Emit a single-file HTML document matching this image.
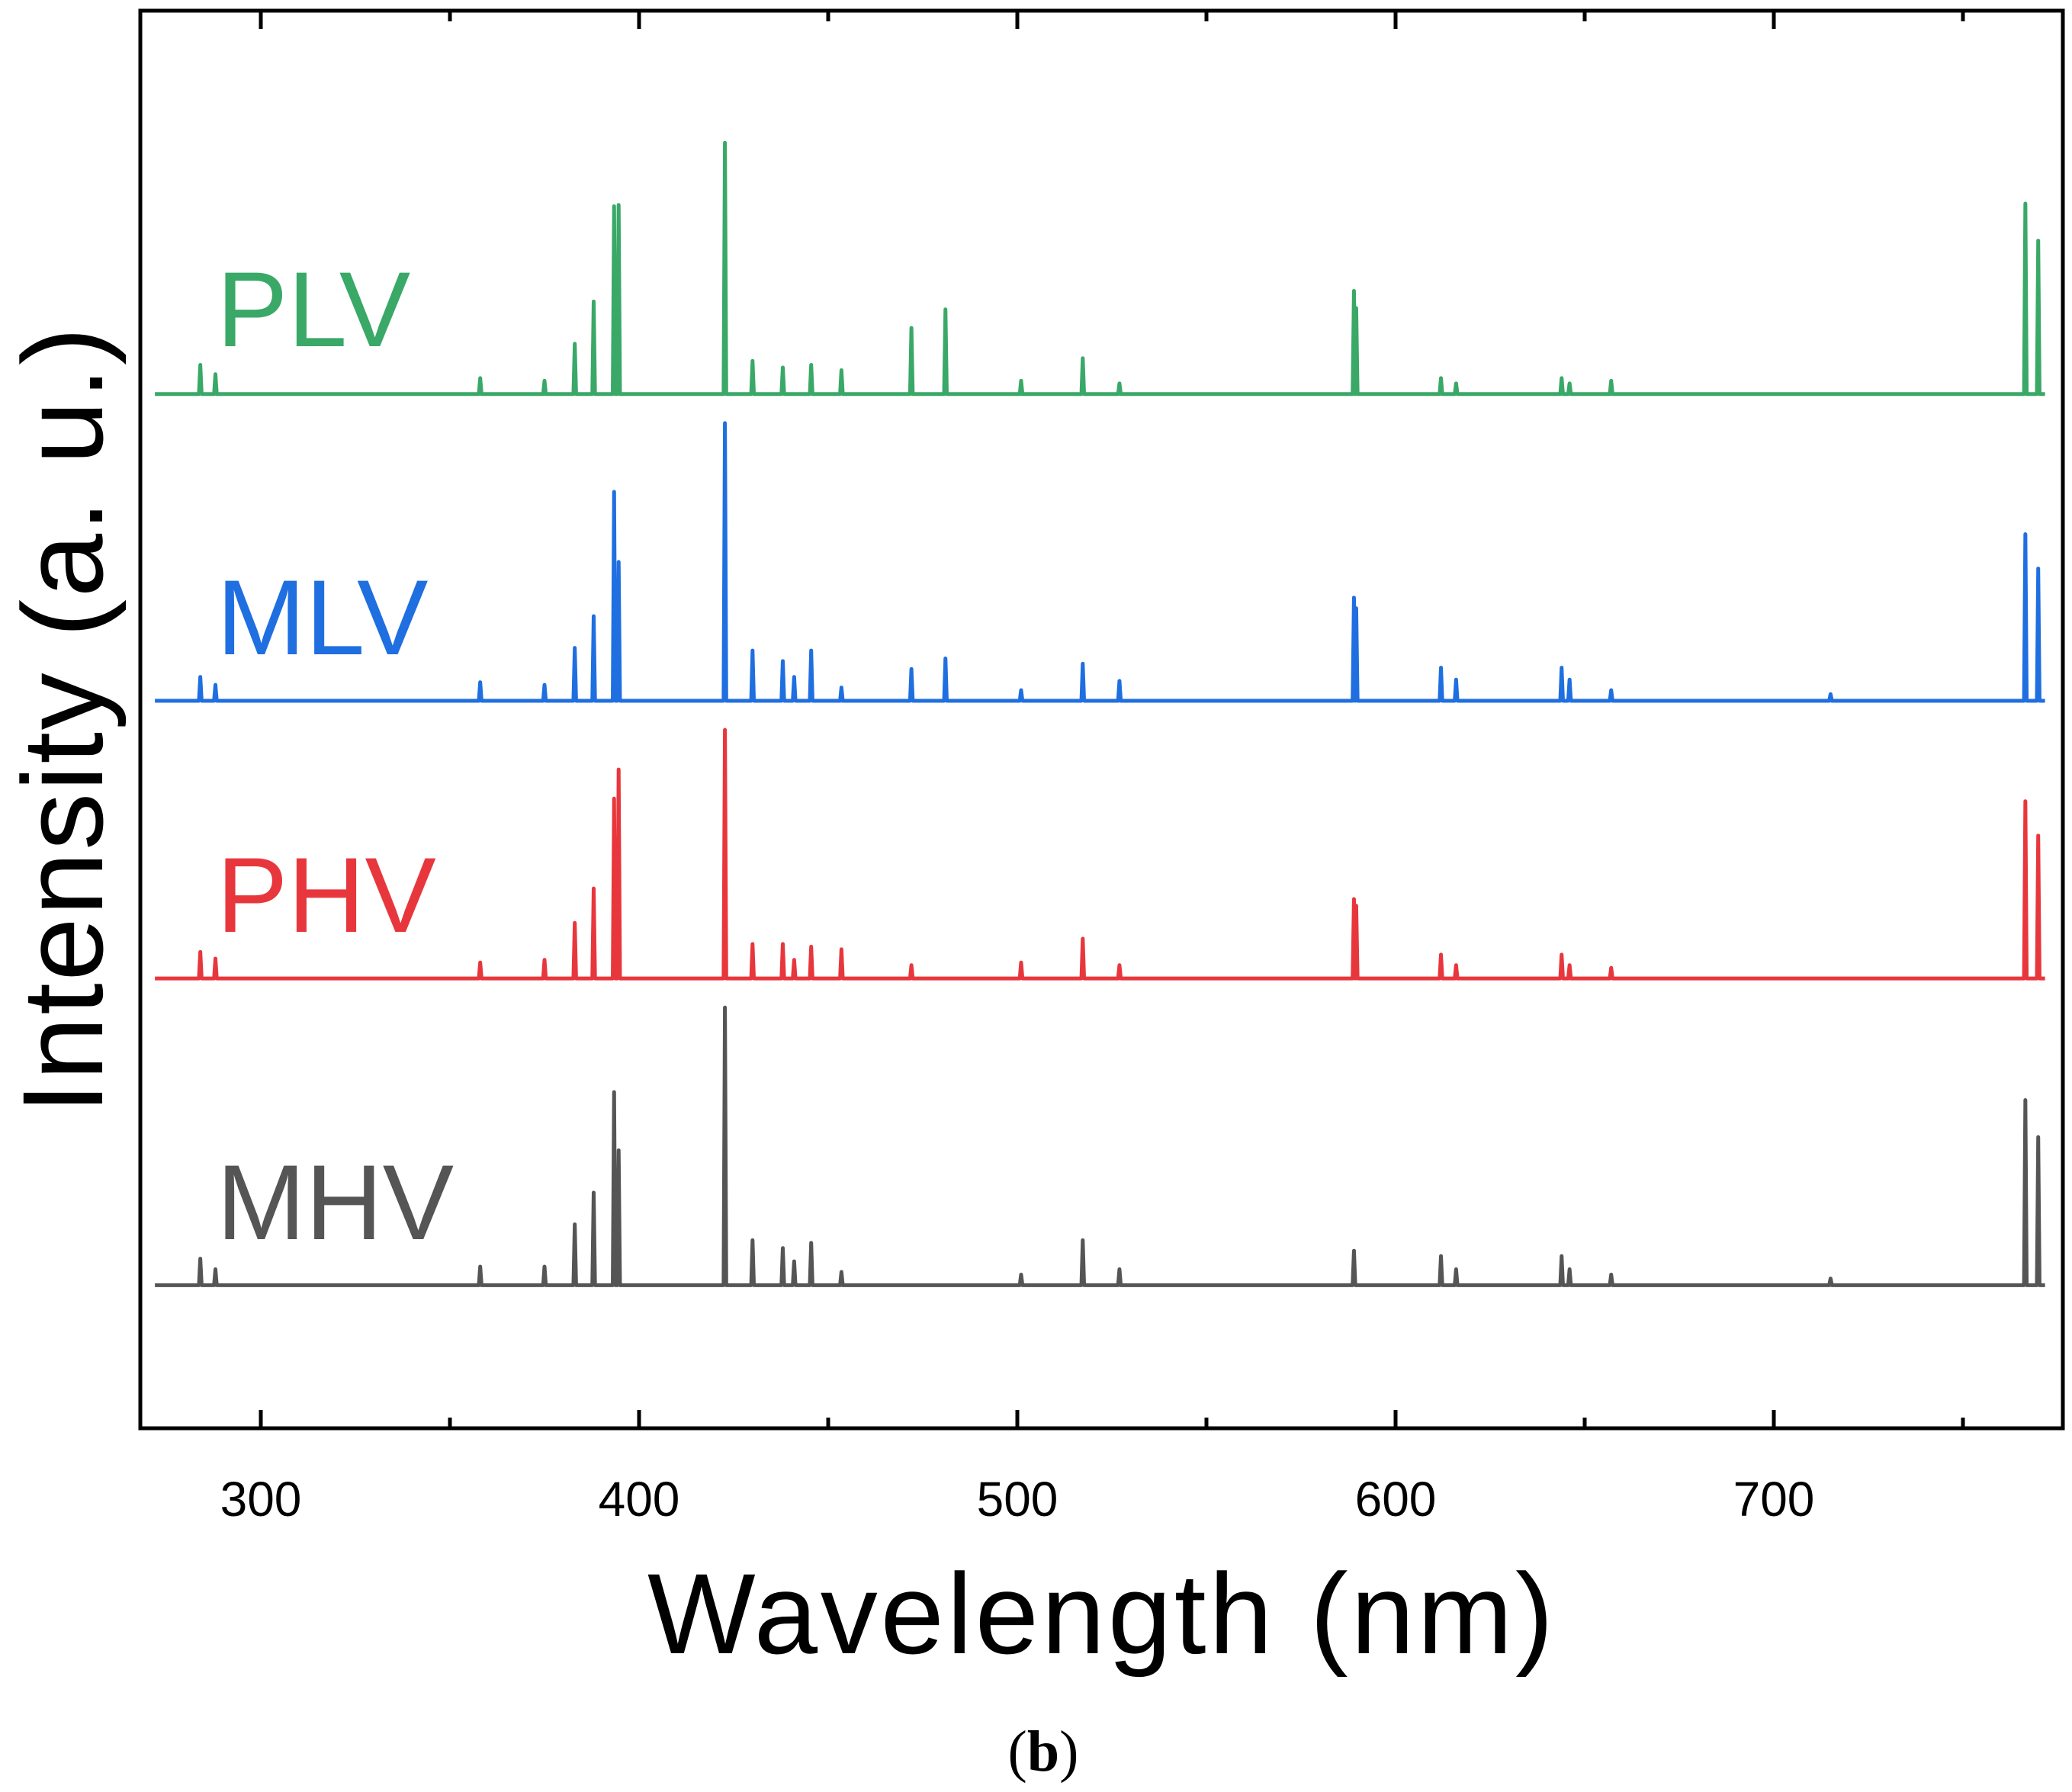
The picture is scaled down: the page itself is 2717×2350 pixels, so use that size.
<!DOCTYPE html>
<html><head><meta charset="utf-8"><style>
html,body{margin:0;padding:0;background:#fff}
svg{display:block}
text{font-family:"Liberation Sans",Arial,sans-serif}
</style></head><body>
<svg id="chart" width="2717" height="2350" viewBox="0 0 2717 2350" xmlns="http://www.w3.org/2000/svg">
<rect x="184" y="14" width="2521" height="1859" fill="none" stroke="#000" stroke-width="5"/>
<g id="ticks"></g>
<g id="series"></g>
<text x="284" y="454" font-size="140" fill="#3aa867">PLV</text>
<text x="284" y="858" font-size="140" fill="#1f6fe0">MLV</text>
<text x="284" y="1222" font-size="140" fill="#e8373c">PHV</text>
<text x="284" y="1625" font-size="140" fill="#555555">MHV</text>
<text x="1443" y="2168" font-size="150" text-anchor="middle" textLength="1188">Wavelength (nm)</text>
<text transform="translate(134,945) rotate(-90)" font-size="150" text-anchor="middle" textLength="1032">Intensity (a. u.)</text>
<text x="1368" y="2322" font-size="76" text-anchor="middle" style="font-family:'Liberation Serif',serif">(<tspan font-weight="bold">b</tspan>)</text>
</svg>
<script>
const xTicks = [300, 400, 500, 600, 700];
const minorTicks = [350, 450, 550, 650, 750];
const seriesNames = ['PLV', 'MLV', 'PHV', 'MHV'];
const seriesColors = ['#3aa867', '#1f6fe0', '#e8373c', '#555555'];
const seriesOffsets = [298, 530, 740, 972];
const plvPeaks = [[284,22],[288,15],[358,12],[375,10],[383,38],[388,70],[393.4,142],[394.6,143],[422.7,190],[430,25],[438,20],[445.5,22],[453.5,18],[472,50],[481,64],[501,10],[517.3,27],[527,8],[589,78],[589.6,65],[612,12],[616,8],[643.9,12],[646,8],[657,10],[766.5,144],[769.9,116]];
const mlvPeaks = [[284,18],[288,12],[358,14],[375,12],[383,40],[388,64],[393.4,158],[394.6,105],[422.7,210],[430,38],[438,30],[441,18],[445.5,38],[453.5,10],[472,24],[481,32],[501,8],[517.3,28],[527,15],[589,78],[589.6,70],[612,25],[616,16],[643.9,25],[646,16],[657,8],[715,5],[766.5,126],[769.9,100]];
const phvPeaks = [[284,20],[288,15],[358,12],[375,14],[383,42],[388,68],[393.4,136],[394.6,158],[422.7,188],[430,26],[438,26],[441,14],[445.5,24],[453.5,22],[472,10],[501,12],[517.3,30],[527,10],[589,60],[589.6,55],[612,18],[616,10],[643.9,18],[646,10],[657,8],[766.5,134],[769.9,108]];
const mhvPeaks = [[284,20],[288,12],[358,14],[375,14],[383,46],[388,70],[393.4,146],[394.6,102],[422.7,210],[430,34],[438,28],[441,18],[445.5,32],[453.5,10],[501,8],[517.3,34],[527,12],[589,26],[612,22],[616,12],[643.9,22],[646,12],[657,8],[715,5],[766.5,140],[769.9,112]];
const allPeaks = [plvPeaks, mlvPeaks, phvPeaks, mhvPeaks];
const xStart = 272, xEnd = 771.7;
const S = 2717/1567;
function xs(w){ return 342 + (w-300)*4.96; }
function ys(off, v){ return (off - v) * S; }
const NS='http://www.w3.org/2000/svg';
const tg=document.getElementById('ticks');
function tick(w,len,name){
  [[1873,1873-len],[14,14+len]].forEach(function(p,i){
    const l=document.createElementNS(NS,'line');
    l.setAttribute('x1',xs(w));l.setAttribute('x2',xs(w));
    l.setAttribute('y1',p[0]);l.setAttribute('y2',p[1]);
    l.setAttribute('stroke','#000');l.setAttribute('stroke-width','5');
    
    
    tg.appendChild(l);
  });
}
xTicks.forEach(function(w){
  tick(w,24,'x-tick-'+w);
  const t=document.createElementNS(NS,'text');
  t.setAttribute('x',xs(w));t.setAttribute('y',1988);
  t.setAttribute('font-size','64');t.setAttribute('text-anchor','middle');
  t.textContent=w;
  
  
  tg.appendChild(t);
});
minorTicks.forEach(function(w){ tick(w,14,'x-minor-tick-'+w); });
const sg=document.getElementById('series');
allPeaks.forEach(function(peaks,i){
  const off=seriesOffsets[i];
  const sorted=peaks.slice().sort(function(a,b){return a[0]-b[0];});
  let d='M'+xs(xStart)+','+ys(off,0);
  sorted.forEach(function(p){
    d+=' L'+xs(p[0]-0.35)+','+ys(off,0)+' L'+xs(p[0])+','+ys(off,p[1])+' L'+xs(p[0]+0.35)+','+ys(off,0);
  });
  d+=' L'+xs(xEnd)+','+ys(off,0);
  const path=document.createElementNS(NS,'path');
  path.setAttribute('d',d);path.setAttribute('fill','none');
  path.setAttribute('stroke',seriesColors[i]);path.setAttribute('stroke-width','5');
  path.setAttribute('stroke-linejoin','round');
  
  
  sg.appendChild(path);
});
</script>
</body></html>
